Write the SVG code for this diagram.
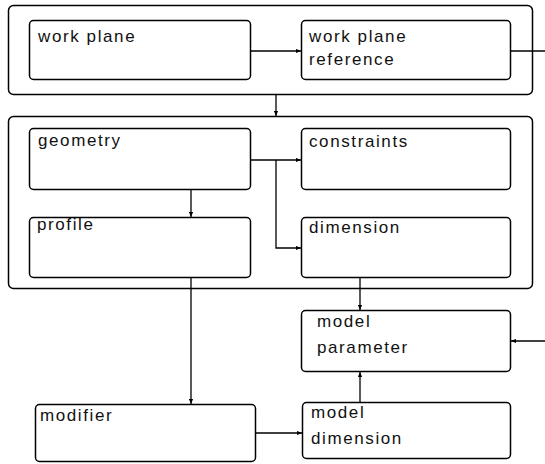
<svg xmlns="http://www.w3.org/2000/svg" width="545" height="464" viewBox="0 0 545 464">
<defs>
<marker id="ah" viewBox="0 0 6 6" refX="6" refY="3" markerWidth="5" markerHeight="5" orient="auto" markerUnits="userSpaceOnUse">
<path d="M0,0.5 L6,3 L0,5.5 Z" fill="#000"/>
</marker>
</defs>
<style>
.c{fill:#fff;stroke:#000;stroke-width:1.5}
.b{fill:#fff;stroke:#000;stroke-width:1.5}
text{font-family:"Liberation Sans",Arial,sans-serif;font-size:17px;letter-spacing:1.6px;fill:#111}
.e{fill:none;stroke:#000;stroke-width:1.3}
</style>
<g id="container-top"><rect class="c" x="8.5" y="5.5" width="524" height="89" rx="5"/></g>
<g id="container-mid"><rect class="c" x="8.5" y="116.5" width="524" height="172" rx="5"/></g>
<g id="work-plane"><rect class="b" x="29.5" y="20.5" width="221" height="59" rx="4"/><text x="38" y="42">work plane</text></g>
<g id="work-plane-reference"><rect class="b" x="301.5" y="20.5" width="209" height="59" rx="4"/><text x="309" y="42">work plane</text><text x="309" y="65">reference</text></g>
<g id="geometry"><rect class="b" x="29.5" y="128.5" width="221" height="61" rx="4"/><text x="38" y="146">geometry</text></g>
<g id="constraints"><rect class="b" x="301.5" y="128.5" width="209" height="61" rx="4"/><text x="309" y="147">constraints</text></g>
<g id="profile"><rect class="b" x="29.5" y="217.5" width="221" height="60" rx="4"/><text x="37" y="230">profile</text></g>
<g id="dimension"><rect class="b" x="301.5" y="217.5" width="209" height="60" rx="4"/><text x="309" y="233">dimension</text></g>
<g id="model-parameter"><rect class="b" x="301.5" y="310.5" width="209" height="61" rx="4"/><text x="317" y="327">model</text><text x="317" y="353">parameter</text></g>
<g id="modifier"><rect class="b" x="35.5" y="404.5" width="220" height="57" rx="4"/><text x="40" y="421">modifier</text></g>
<g id="model-dimension"><rect class="b" x="302.5" y="402.5" width="208" height="56" rx="4"/><text x="311" y="418">model</text><text x="311" y="444">dimension</text></g>
<g id="connectors">
<path class="e" d="M250.5,51 H301" marker-end="url(#ah)"/>
<path class="e" d="M510.5,51 H545"/>
<path class="e" d="M276,94.5 V116" marker-end="url(#ah)"/>
<path class="e" d="M250.5,160 H301" marker-end="url(#ah)"/>
<path class="e" d="M276,160 V248 H301" marker-end="url(#ah)"/>
<path class="e" d="M191,189.5 V217" marker-end="url(#ah)"/>
<path class="e" d="M191,277.5 V404" marker-end="url(#ah)"/>
<path class="e" d="M360,277.5 V310" marker-end="url(#ah)"/>
<path class="e" d="M545,341 H511" marker-end="url(#ah)"/>
<path class="e" d="M255.5,433 H302" marker-end="url(#ah)"/>
<path class="e" d="M360,402.5 V372" marker-end="url(#ah)"/>
</g>
</svg>
